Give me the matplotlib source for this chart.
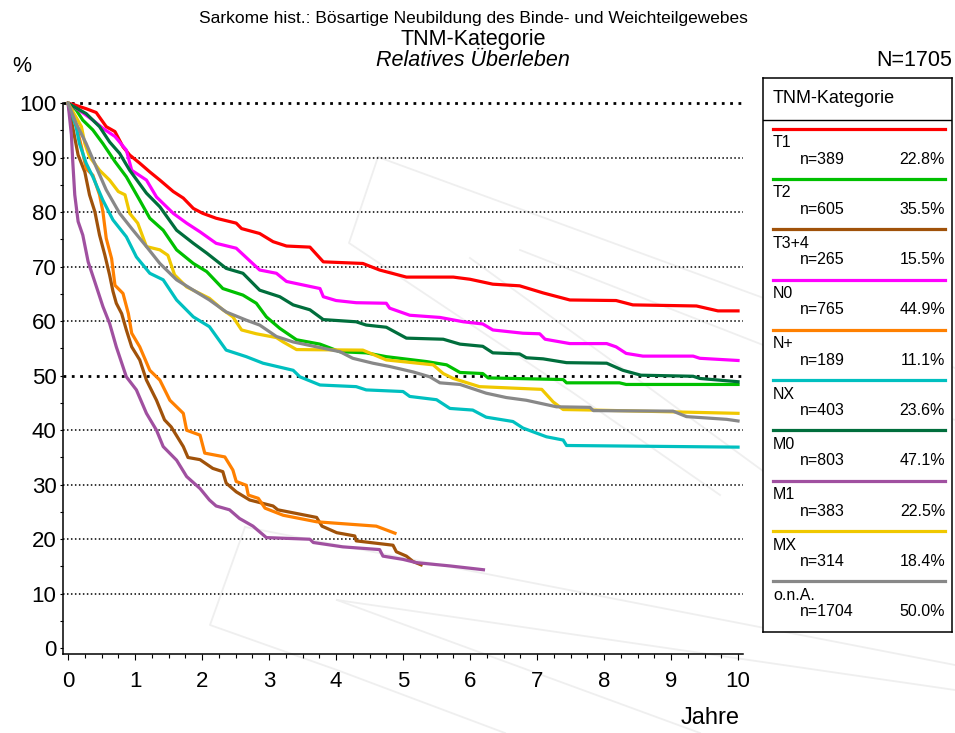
import numpy as np
import matplotlib
matplotlib.use("Agg")
import matplotlib.pyplot as plt
from matplotlib.lines import Line2D
from matplotlib.ticker import MultipleLocator

plt.rcParams['font.family'] = ['Liberation Sans', 'DejaVu Sans']

# Überlebenskurven (Jahre, % relatives Überleben)
t1_t = [0, 0.07, 0.27, 0.42, 0.57, 0.70, 0.82, 0.92, 1.07, 1.22, 1.37, 1.57, 1.72, 1.87, 2.01, 2.21, 2.51, 2.59, 2.86, 3.06, 3.26, 3.61, 3.81, 4.40, 4.65, 5.05, 5.75, 6.0, 6.34, 6.74, 7.09, 7.49, 8.18, 8.43, 9.38, 9.70, 10.0]
t1_s = [100, 99.8, 99.0, 98.3, 95.7, 94.8, 92.0, 90.5, 89.0, 87.4, 85.9, 83.8, 82.6, 80.7, 79.8, 78.9, 78.0, 77.0, 76.1, 74.6, 73.8, 73.6, 70.9, 70.6, 69.4, 68.1, 68.1, 67.7, 66.8, 66.5, 65.2, 63.9, 63.8, 63.0, 62.8, 61.9, 61.9]

t2_t = [0, 0.12, 0.22, 0.37, 0.52, 0.70, 0.87, 1.07, 1.22, 1.42, 1.62, 1.87, 2.07, 2.31, 2.61, 2.81, 2.96, 3.16, 3.41, 3.76, 4.06, 4.45, 4.75, 5.35, 5.65, 5.85, 6.19, 6.27, 7.39, 7.44, 8.23, 8.33, 10.0]
t2_s = [100, 98.8, 96.9, 95.1, 92.6, 89.3, 86.5, 82.2, 78.9, 76.7, 73.1, 70.6, 69.1, 66.0, 64.8, 63.3, 60.8, 58.7, 56.6, 55.8, 54.4, 54.2, 53.5, 52.6, 52.0, 50.6, 50.4, 49.6, 49.3, 48.7, 48.7, 48.4, 48.4]

t34_t = [0, 0.15, 0.25, 0.32, 0.40, 0.47, 0.55, 0.62, 0.67, 0.72, 0.80, 0.87, 0.95, 1.07, 1.17, 1.32, 1.44, 1.54, 1.72, 1.79, 1.97, 2.16, 2.31, 2.36, 2.51, 2.71, 3.06, 3.13, 3.71, 3.79, 4.01, 4.28, 4.30, 4.85, 4.90, 5.05, 5.15, 5.27]
t34_s = [100, 90.5, 87.4, 83.2, 80.1, 75.8, 72.1, 68.5, 65.5, 63.3, 61.4, 58.4, 55.3, 52.9, 49.2, 45.5, 41.9, 40.6, 37.0, 35.0, 34.6, 33.0, 32.4, 30.3, 28.7, 27.2, 26.1, 25.4, 24.0, 22.4, 21.2, 20.6, 19.7, 18.9, 17.7, 16.9, 15.9, 15.3]

n0_t = [0, 0.17, 0.37, 0.52, 0.70, 0.87, 0.95, 1.17, 1.32, 1.57, 1.77, 1.97, 2.21, 2.51, 2.86, 3.11, 3.26, 3.76, 3.81, 4.0, 4.30, 4.75, 4.80, 5.10, 5.55, 5.90, 6.19, 6.34, 6.79, 7.04, 7.12, 7.49, 8.04, 8.18, 8.33, 8.58, 9.33, 9.43, 10.0]
n0_s = [100, 98.7, 96.9, 95.4, 93.9, 91.4, 87.7, 85.9, 82.8, 79.8, 78.0, 76.4, 74.3, 73.4, 69.4, 68.8, 67.3, 66.0, 64.5, 63.8, 63.4, 63.3, 62.4, 61.1, 60.7, 59.9, 59.5, 58.4, 57.8, 57.7, 56.7, 55.9, 55.9, 55.3, 54.1, 53.6, 53.6, 53.2, 52.8]

np_t = [0, 0.10, 0.20, 0.27, 0.37, 0.47, 0.52, 0.57, 0.65, 0.70, 0.82, 0.90, 0.95, 1.07, 1.22, 1.37, 1.52, 1.72, 1.77, 1.97, 2.04, 2.34, 2.46, 2.51, 2.66, 2.69, 2.84, 2.94, 3.21, 3.71, 4.60, 4.88]
np_s = [100, 97.0, 92.0, 88.0, 86.8, 83.2, 80.1, 75.2, 71.5, 66.6, 65.1, 61.4, 57.8, 55.3, 51.0, 49.2, 45.5, 43.1, 40.0, 39.1, 35.8, 35.1, 32.7, 30.6, 29.9, 28.1, 27.5, 25.7, 24.4, 23.2, 22.4, 21.1]

nx_t = [0, 0.12, 0.17, 0.27, 0.37, 0.52, 0.67, 0.87, 1.02, 1.22, 1.42, 1.62, 1.87, 2.11, 2.36, 2.66, 2.91, 3.36, 3.46, 3.76, 4.30, 4.45, 5.0, 5.10, 5.50, 5.70, 6.04, 6.24, 6.64, 6.79, 7.14, 7.39, 7.44, 10.0]
nx_s = [100, 95.7, 92.6, 89.0, 86.5, 82.2, 78.6, 75.5, 71.8, 68.8, 67.6, 63.9, 60.8, 59.0, 54.7, 53.5, 52.3, 51.0, 49.8, 48.3, 48.0, 47.4, 47.1, 46.2, 45.6, 44.0, 43.7, 42.4, 41.6, 40.4, 38.8, 38.2, 37.2, 36.9]

m0_t = [0, 0.27, 0.47, 0.62, 0.77, 0.92, 1.17, 1.37, 1.62, 1.87, 2.07, 2.36, 2.61, 2.86, 3.16, 3.36, 3.61, 3.81, 4.30, 4.45, 4.75, 5.05, 5.60, 5.85, 6.19, 6.34, 6.74, 6.84, 7.09, 7.44, 8.04, 8.28, 8.55, 9.33, 9.43, 10.0]
m0_s = [100, 98.1, 95.7, 92.9, 90.8, 87.7, 83.5, 81.0, 76.7, 74.3, 72.5, 69.7, 68.8, 65.7, 64.5, 63.0, 62.1, 60.3, 59.9, 59.3, 58.9, 56.9, 56.7, 55.8, 55.4, 54.2, 54.0, 53.3, 53.1, 52.4, 52.3, 51.0, 50.1, 49.9, 49.5, 48.9]

m1_t = [0, 0.05, 0.07, 0.10, 0.15, 0.22, 0.30, 0.40, 0.52, 0.62, 0.72, 0.87, 1.02, 1.17, 1.32, 1.42, 1.62, 1.77, 1.97, 2.11, 2.21, 2.41, 2.56, 2.76, 2.96, 3.61, 3.66, 4.10, 4.65, 4.70, 5.0, 5.20, 5.70, 6.20]
m1_s = [100, 94.2, 89.3, 83.2, 78.3, 75.8, 70.9, 67.2, 62.7, 59.6, 55.3, 49.8, 47.4, 43.1, 40.0, 37.0, 34.5, 31.5, 29.3, 27.2, 26.1, 25.4, 23.8, 22.4, 20.3, 20.0, 19.4, 18.6, 18.1, 16.9, 16.3, 15.7, 15.1, 14.4]

mx_t = [0, 0.20, 0.25, 0.32, 0.47, 0.62, 0.75, 0.85, 0.92, 1.04, 1.17, 1.37, 1.49, 1.59, 1.77, 2.11, 2.31, 2.46, 2.59, 2.81, 3.11, 3.21, 3.41, 4.40, 4.75, 5.45, 5.60, 5.75, 6.14, 7.07, 7.24, 7.39, 7.84, 10.0]
mx_s = [100, 95.7, 92.6, 90.2, 87.7, 85.9, 83.8, 83.2, 79.8, 78.0, 73.7, 73.1, 72.1, 68.5, 66.3, 64.2, 62.1, 60.8, 58.4, 57.7, 57.0, 56.2, 54.8, 54.7, 52.9, 52.0, 50.4, 49.5, 48.0, 47.5, 45.2, 43.8, 43.7, 43.1]

ona_t = [0, 0.12, 0.27, 0.42, 0.57, 0.77, 0.97, 1.17, 1.37, 1.62, 1.87, 2.11, 2.36, 2.66, 2.86, 3.11, 3.36, 4.06, 4.25, 4.55, 4.80, 5.15, 5.40, 5.55, 5.85, 6.24, 6.54, 6.84, 7.29, 7.79, 7.84, 9.03, 9.23, 9.83, 10.0]
ona_s = [100, 96.3, 92.6, 88.3, 84.1, 79.8, 76.7, 73.7, 70.6, 67.6, 65.7, 63.9, 61.7, 60.2, 59.3, 57.2, 56.2, 54.4, 53.2, 52.3, 51.7, 50.7, 49.8, 48.7, 48.4, 46.8, 46.0, 45.5, 44.3, 44.2, 43.6, 43.5, 42.5, 42.0, 41.7]

names = ['T1', 'T2', 'T3+4', 'N0', 'N+', 'NX', 'M0', 'M1', 'MX', 'o.n.A.']
counts = ['n=389', 'n=605', 'n=265', 'n=765', 'n=189', 'n=403', 'n=803', 'n=383', 'n=314', 'n=1704']
shares = ['22.8%', '35.5%', '15.5%', '44.9%', '11.1%', '23.6%', '47.1%', '22.5%', '18.4%', '50.0%']
colors = ['#ff0000', '#00c000', '#a0520a', '#ff00ff', '#ff8000', '#00c0c0', '#006e3c', '#a050a0', '#f0c800', '#888888']
times = [t1_t, t2_t, t34_t, n0_t, np_t, nx_t, m0_t, m1_t, mx_t, ona_t]
surv = [t1_s, t2_s, t34_s, n0_s, np_s, nx_s, m0_s, m1_s, mx_s, ona_s]

W, H = 955, 733
fig = plt.figure(figsize=(W / 100, H / 100), dpi=100)

# Wasserzeichen (blasse Linien im Hintergrund)
wm = [
    [(378, 157), (349, 243), (572, 392), (720, 495)],
    [(378, 157), (955, 368)],
    [(470, 258), (655, 392), (830, 520)],
    [(520, 250), (955, 420)],
    [(245, 527), (210, 625), (337, 670), (505, 733)],
    [(245, 527), (955, 665)],
    [(337, 600), (955, 690)],
    [(337, 600), (700, 733)],
]
for seg in wm:
    xs = [p[0] / W for p in seg]
    ys = [1 - p[1] / H for p in seg]
    fig.add_artist(Line2D(xs, ys, color='#efefef', lw=1.3, zorder=0))

ax = fig.add_axes([62.7 / W, 79 / H, 680.7 / W, 556.2 / H])
ax.patch.set_alpha(0)
ax.set_xlim(-0.08, 10.08)
ax.set_ylim(-1.06, 101)

for yv in range(10, 101, 10):
    bold = yv in (50, 100)
    ax.axhline(yv, color='black', lw=2.0 if bold else 1.1,
               ls=(0, (1, 2)) if bold else (0, (1, 1.6)), zorder=1)

for i in range(len(names)):
    ax.plot(times[i], surv[i], color=colors[i], lw=2.3, zorder=3 + i,
            solid_joinstyle='round')

ax.spines['top'].set_visible(False)
ax.spines['right'].set_visible(False)
ax.spines['left'].set_linewidth(1.1)
ax.spines['bottom'].set_linewidth(1.1)
ax.spines['left'].set_bounds(-1.06, 100)

ax.xaxis.set_major_locator(MultipleLocator(1))
ax.xaxis.set_minor_locator(MultipleLocator(0.25))
ax.yaxis.set_major_locator(MultipleLocator(10))
ax.yaxis.set_minor_locator(MultipleLocator(5))
ax.tick_params(axis='x', which='major', length=4.5, width=0.8, pad=8, labelsize=16)
ax.tick_params(axis='x', which='minor', length=3, width=0.8)
ax.tick_params(axis='y', which='both', length=2.5, width=0.8, pad=2, labelsize=16)

fig.text(473 / W, 1 - 18 / H, 'Sarkome hist.: Bösartige Neubildung des Binde- und Weichteilgewebes',
         ha='center', va='center', fontsize=12.5)
fig.text(473 / W, 1 - 40 / H, 'TNM-Kategorie', ha='center', va='center', fontsize=15.5)
fig.text(473 / W, 1 - 61 / H, 'Relatives Überleben', ha='center', va='center',
         fontsize=15.5, style='italic')
fig.text(12 / W, 1 - 66 / H, '%', ha='left', va='center', fontsize=15.5)
fig.text(952 / W, 1 - 61 / H, 'N=1705', ha='right', va='center', fontsize=15.5)
fig.text(740 / W, 1 - 718 / H, 'Jahre', ha='right', va='center', fontsize=17)

# Legende als eigener Kasten (Pixelkoordinaten)
bx0, by0, bx1, by1 = 763, 78, 952, 632
lg = fig.add_axes([bx0 / W, 1 - by1 / H, (bx1 - bx0) / W, (by1 - by0) / H])
lg.set_xlim(bx0, bx1)
lg.set_ylim(by1, by0)
lg.set_xticks([])
lg.set_yticks([])
for s in lg.spines.values():
    s.set_linewidth(1.1)
lg.text(773, 98.5, 'TNM-Kategorie', ha='left', va='center', fontsize=13)
lg.plot([bx0, bx1], [120, 120], color='black', lw=1.0)
for i in range(len(names)):
    ly = 128.6 + 50.3 * i
    lg.plot([773, 945], [ly, ly], color=colors[i], lw=2.3)
    lg.text(773, ly + 14, names[i], ha='left', va='center', fontsize=11.5)
    lg.text(800, ly + 30.5, counts[i], ha='left', va='center', fontsize=11.5)
    lg.text(945, ly + 30.5, shares[i], ha='right', va='center', fontsize=11.5)

fig.savefig('out.png', dpi=100)
